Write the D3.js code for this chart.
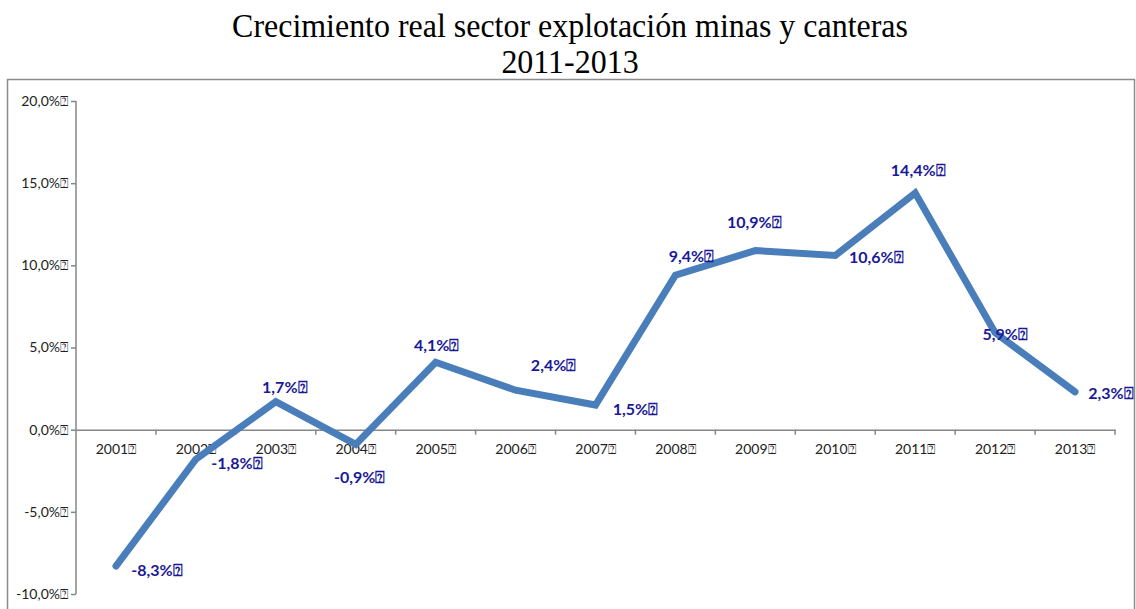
<!DOCTYPE html>
<html>
<head>
<meta charset="utf-8">
<script src="https://cdn.jsdelivr.net/npm/d3@7"></script>
<style>
  body { margin: 0; background: #fff; }
</style>
</head>
<body>
<div id="chart"></div>
<script>
const years = ['2001', '2002', '2003', '2004', '2005', '2006', '2007', '2008', '2009', '2010', '2011', '2012', '2013'];
const growth = [-8.3, -1.8, 1.7, -0.9, 4.1, 2.4, 1.5, 9.4, 10.9, 10.6, 14.4, 5.9, 2.3];
const yTicks = [-10, -5, 0, 5, 10, 15, 20];
const titleLines = ['Crecimiento real sector explotación minas y canteras', '2011-2013'];

// label placement (dx, dy of the text centre from its point)
const labelOffsets = [
  [41, 4], [41, 4], [9, -14], [4, 33], [1, -17], [38, -25], [40, 4],
  [16, -19], [-1, -28], [41, 2], [3, -23], [10, 2], [36, 2]
];

const TOFU = '\u2370';
const fmt = d => d.toFixed(1).replace('.', ',') + '%' + TOFU;

const totalW = 1136, totalH = 609;
const svg = d3.select('#chart').append('svg')
  .attr('width', totalW).attr('height', totalH);

// outer frame
svg.append('rect')
  .attr('x', 7.5).attr('y', 79.5).attr('width', 1127).attr('height', 540)
  .attr('fill', 'none').attr('stroke', '#8c8c8c').attr('stroke-width', 1.5);

// title (condensed serif, like the original)
const titleCx = 570;
const title = svg.append('g');
const titleTexts = titleLines.map((line, i) => title.append('text')
  .attr('x', 0).attr('y', i === 0 ? 37 : 73)
  .attr('text-anchor', 'middle')
  .attr('font-family', "'Liberation Serif', 'Times New Roman', serif")
  .attr('font-size', '34px')
  .attr('fill', '#000')
  .text(line));
const k = 676 / titleTexts[0].node().getComputedTextLength();
titleTexts.forEach(t => t.attr('transform', `translate(${titleCx},0) scale(${k},1)`));

const x = d3.scaleBand().domain(years).range([76, 1115]);
const y = d3.scaleLinear().domain([-10, 20]).range([594, 101]);

// y axis
const yAxis = svg.append('g').attr('transform', 'translate(76,0)')
  .call(d3.axisLeft(y).tickValues(yTicks).tickSize(5).tickPadding(3)
    .tickFormat(d => fmt(d)));
yAxis.select('.domain').attr('stroke', '#868686').attr('stroke-width', 1.5).attr('d', `M-0,${y(-10)}V${y(20)}`);
yAxis.selectAll('.tick line').attr('stroke', '#868686').attr('stroke-width', 1.5);
yAxis.selectAll('.tick text')
  .attr('fill', '#222').attr('font-family', "Lato, 'Open Sans', sans-serif").attr('font-size', '14px');

// x axis at zero
const xAxis = svg.append('g').attr('transform', `translate(0,${y(0)})`)
  .call(d3.axisBottom(x).tickSize(0).tickPadding(14).tickFormat(d => d + TOFU));
xAxis.select('.domain').attr('stroke', '#868686').attr('stroke-width', 1.5);
xAxis.selectAll('.tick text')
  .attr('fill', '#222').attr('font-family', "Lato, 'Open Sans', sans-serif").attr('font-size', '14px');
xAxis.selectAll('.boundary')
  .data(years).enter().append('line')
  .attr('x1', d => x(d) + x.bandwidth()).attr('x2', d => x(d) + x.bandwidth())
  .attr('y1', 0).attr('y2', 5)
  .attr('stroke', '#868686').attr('stroke-width', 1.5);

// line
const cx = d => x(d) + x.bandwidth() / 2;
const line = d3.line()
  .x((d, i) => cx(years[i]))
  .y(d => y(d));

svg.append('path')
  .datum(growth)
  .attr('d', line)
  .attr('fill', 'none')
  .attr('stroke', '#4a7ebb')
  .attr('stroke-width', 7)
  .attr('stroke-linecap', 'round')
  .attr('stroke-linejoin', 'miter');

// data labels
svg.append('g').selectAll('text')
  .data(growth).enter().append('text')
  .attr('x', (d, i) => cx(years[i]) + labelOffsets[i][0])
  .attr('y', (d, i) => y(d) + labelOffsets[i][1])
  .attr('dy', '0.35em')
  .attr('text-anchor', 'middle')
  .attr('fill', '#1a1a96')
  .attr('font-family', "Lato, 'Open Sans', sans-serif")
  .attr('font-weight', 'bold')
  .attr('font-size', '16px')
  .text(d => fmt(d));
</script>
</body>
</html>
